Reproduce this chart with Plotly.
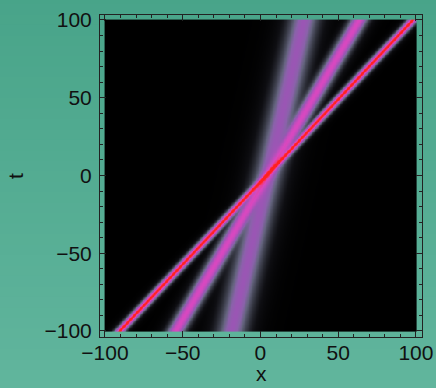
import numpy as np
import plotly.graph_objects as go

# Soliton tracks: x position at t = -100 and t = +100
soliton_names = ["red", "pink", "purple"]
x_at_t_bottom = [-90.5, -54.5, -18.5]
x_at_t_top = [98.0, 63.5, 28.0]
amplitudes = [1.0, 0.70, 0.42]
widths = [1.7, 3.0, 5.5]

tick_vals = [-100, -50, 0, 50, 100]
tick_text = ["\u2212100", "\u221250", "0", "50", "100"]

x = np.linspace(-100, 100, 401)
t = np.linspace(-100, 100, 401)
X, T = np.meshgrid(x, t)
acc = np.zeros_like(X)
for xb, xt, a, w in zip(x_at_t_bottom, x_at_t_top, amplitudes, widths):
    xc = xb + (xt - xb) * (T + 100) / 200.0
    acc += (a / np.cosh((X - xc) / w)) ** 3
Z = acc ** (1 / 3)

colorscale = [
    [0.00, "#000000"],
    [0.06, "#0e0e12"],
    [0.15, "#383a46"],
    [0.25, "#64647e"],
    [0.34, "#8a62aa"],
    [0.42, "#9a56b4"],
    [0.55, "#bc4ebc"],
    [0.70, "#d848c0"],
    [0.82, "#f03a78"],
    [0.92, "#ff2a3a"],
    [1.00, "#ff2020"],
]

fig = go.Figure()
fig.add_trace(go.Heatmap(x=x, y=t, z=Z, zmin=0, zmax=1, colorscale=colorscale,
                         showscale=False, hoverinfo="skip"))

# page gradient background
top_c = np.array([72, 164, 137])
bot_c = np.array([98, 182, 158])
n = 40
y_top, y_bot = 1.1, -0.2
h = (y_top - y_bot) / n
shapes = []
for i in range(n):
    f = i / (n - 1)
    c = top_c + (bot_c - top_c) * f
    y1 = y_top - i * h
    y0 = y1 - h - 0.005
    shapes.append(dict(type="rect", xref="paper", yref="paper", x0=-1.0, x1=2.0,
                       y0=y0, y1=y1, line_width=0, layer="below",
                       fillcolor=f"rgb({int(c[0])},{int(c[1])},{int(c[2])})"))

font = dict(family="Liberation Sans", size=21, color="#111111")
axis_common = dict(
    tickvals=tick_vals, ticktext=tick_text, ticks="inside", ticklen=6, tickwidth=1,
    tickcolor="#222222", showline=True, linecolor="#222222", linewidth=1,
    mirror="allticks", showgrid=False, zeroline=False, automargin=False,
    minor=dict(dtick=10, ticks="inside", ticklen=3, tickcolor="#222222", showgrid=False),
    tickfont=font,
)

fig.update_layout(
    width=436, height=388,
    margin=dict(l=100, r=14, t=15, b=51),
    paper_bgcolor="#55ab93",
    plot_bgcolor="rgba(0,0,0,0)",
    shapes=shapes,
    xaxis=dict(range=[-103.2, 103.9], ticklabelstandoff=-3, **axis_common),
    yaxis=dict(range=[-103.9, 103.2], ticklabelstandoff=3, **axis_common),
    annotations=[
        dict(text="x", xref="paper", yref="paper", x=0.5, y=-0.155, showarrow=False,
             font=font, xanchor="center", yanchor="bottom"),
        dict(text="t", xref="paper", yref="paper", x=-0.264, y=0.5, showarrow=False,
             font=font, textangle=-90, xanchor="center", yanchor="middle"),
    ],
)

fig.write_html("out.html", config={"displayModeBar": False},
               post_script="document.body.style.margin='0';document.body.style.background='#55ab93';")
